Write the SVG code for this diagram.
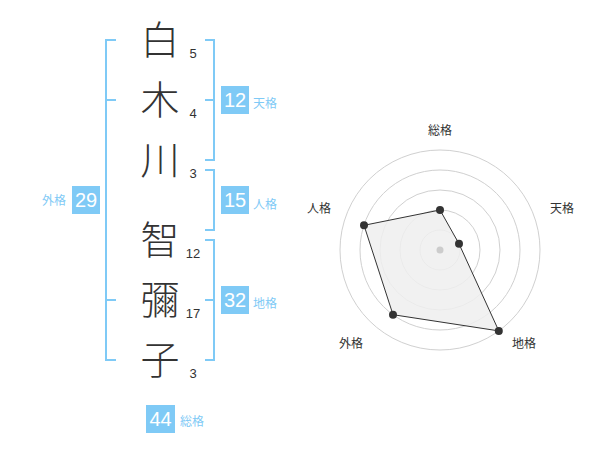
<svg xmlns="http://www.w3.org/2000/svg" width="600" height="470" viewBox="0 0 600 470">
<style>
.big{font-family:"Noto Sans CJK JP","Noto Sans CJK SC",sans-serif;font-size:39px;font-weight:300;fill:#333;text-anchor:middle}
.num{font-family:"Liberation Sans",Arial,sans-serif;font-size:13px;fill:#333;text-anchor:middle}
.br{fill:none;stroke:#7fcaf6;stroke-width:2}
.box{fill:#7fcaf6}
.bn{font-family:"Liberation Sans",Arial,sans-serif;font-size:20px;fill:#fff;text-anchor:middle}
.lb{font-family:"Noto Sans CJK JP","Noto Sans CJK SC",sans-serif;font-size:12px;fill:#7fcaf6}
.ring{fill:none;stroke:#d0d0d0;stroke-width:1}
.rl{font-family:"Noto Sans CJK JP","Noto Sans CJK SC",sans-serif;font-size:12px;fill:#333;text-anchor:middle}
.dot{fill:#333}
</style>
<rect width="600" height="470" fill="#fff"/>
<g id="chars">
<text class="big" x="160" y="54">白</text>
<text class="big" x="160" y="114">木</text>
<text class="big" x="160" y="174">川</text>
<text class="big" x="160" y="254">智</text>
<text class="big" x="160" y="314">彌</text>
<text class="big" x="160" y="374">子</text>
<text class="num" x="193" y="58">5</text>
<text class="num" x="193" y="118">4</text>
<text class="num" x="193" y="178">3</text>
<text class="num" x="193" y="258">12</text>
<text class="num" x="193" y="318">17</text>
<text class="num" x="193" y="378">3</text>
</g>
<g id="connectors">
<path class="br" d="M116,40 H106 V360 H116 M106,100 H116 M106,300 H116"/>
<path class="br" d="M205,40 H214 V160 H205 M205,100 H214"/>
<path class="br" d="M205,170 H214 V230 H205"/>
<path class="br" d="M205,240 H214 V360 H205 M205,300 H214"/>
</g>
<g id="tenkaku">
<rect class="box" x="221" y="86" width="28" height="28"/>
<text class="bn" x="235" y="107">12</text>
<text class="lb" x="253" y="108">天格</text>
</g>
<g id="jinkaku">
<rect class="box" x="221" y="186" width="28" height="28"/>
<text class="bn" x="235" y="207">15</text>
<text class="lb" x="253" y="209">人格</text>
</g>
<g id="chikaku">
<rect class="box" x="221" y="286" width="28" height="28"/>
<text class="bn" x="235" y="307">32</text>
<text class="lb" x="253" y="308">地格</text>
</g>
<g id="gaikaku">
<rect class="box" x="72" y="186" width="28" height="28"/>
<text class="bn" x="86" y="207">29</text>
<text class="lb" x="66" y="204.5" text-anchor="end">外格</text>
</g>
<g id="soukaku">
<rect class="box" x="146" y="405" width="29" height="28"/>
<text class="bn" x="160.5" y="426">44</text>
<text class="lb" x="180" y="426">総格</text>
</g>
<g id="radar">
<circle class="ring" cx="440" cy="250" r="20"/>
<circle class="ring" cx="440" cy="250" r="40"/>
<circle class="ring" cx="440" cy="250" r="60"/>
<circle class="ring" cx="440" cy="250" r="80"/>
<circle class="ring" cx="440" cy="250" r="100"/>
<polygon points="440,210 459,243.8 498.8,330.9 393,314.7 364,225.3" fill="#eee" fill-opacity="0.85" stroke="#333" stroke-width="1"/>
<circle cx="440" cy="250" r="3.5" fill="#ccc"/>
<circle class="dot" cx="440" cy="210" r="4"/>
<circle class="dot" cx="459" cy="243.8" r="4"/>
<circle class="dot" cx="498.8" cy="330.9" r="4"/>
<circle class="dot" cx="393" cy="314.7" r="4"/>
<circle class="dot" cx="364" cy="225.3" r="4"/>
<text class="rl" x="440" y="134.5">総格</text>
<text class="rl" x="562" y="212.5">天格</text>
<text class="rl" x="524" y="347.5">地格</text>
<text class="rl" x="351" y="347.5">外格</text>
<text class="rl" x="319" y="212.5">人格</text>
</g>
</svg>
